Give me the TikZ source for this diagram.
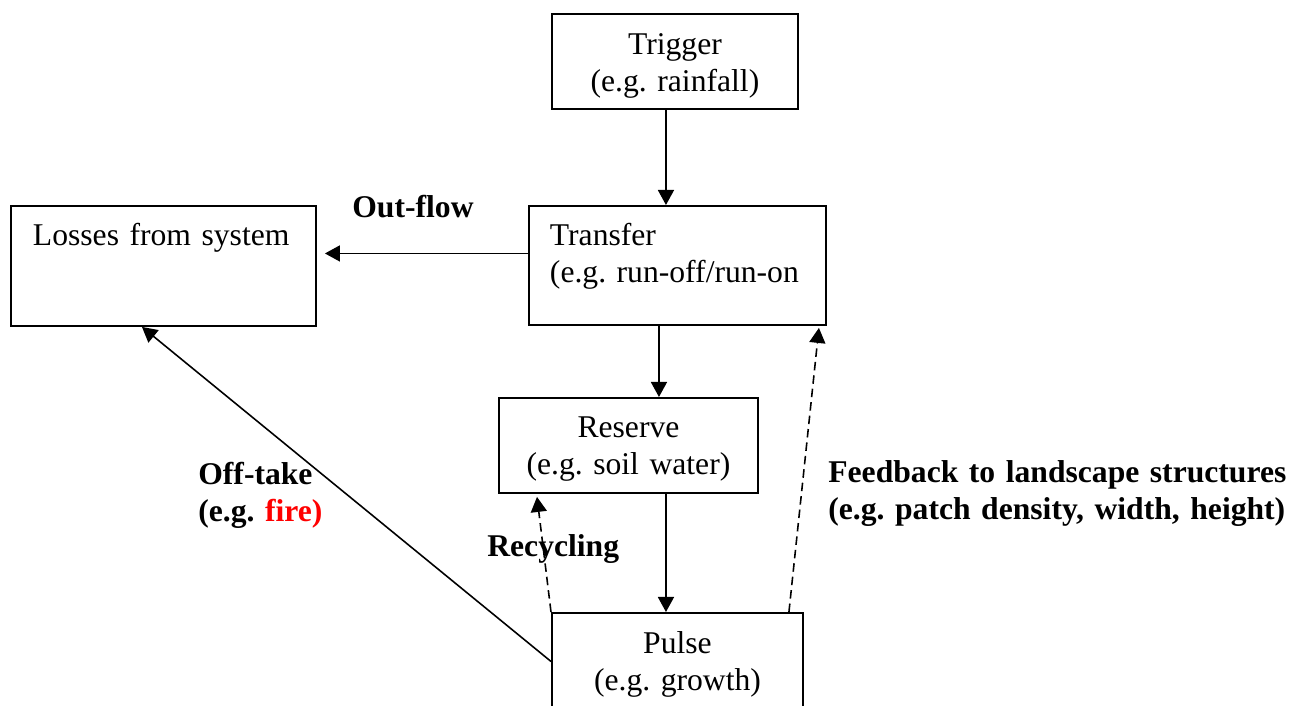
\documentclass[tikz,border=0pt]{standalone}
\usepackage{fontspec}
\setmainfont{Liberation Serif}
\usetikzlibrary{positioning}
\usetikzlibrary{calc}
\usetikzlibrary{arrows.meta}
\frenchspacing

\begin{document}
\begin{tikzpicture}
		\tikzset{box/.style = {shape=rectangle,draw,line width=1.1pt,anchor=north west,inner ysep=0pt,font=\fontsize{18pt}{21pt}\selectfont}}
		\tikzset{tag/.style = {anchor=base west,inner sep=0pt,align=left,font=\fontsize{18pt}{21pt}\selectfont\bfseries}}
		\tikzset{edge/.style = {-{Triangle[length=0.3cm,width=0.32cm]},line width=0.9pt}}
		\tikzset{back/.style = {edge,dash pattern=on 0.17cm off 0.1cm}}
		\useasboundingbox (0,0) rectangle (25.86,14.12);
		% boxes
		\node[box, text width=4.92cm, inner xsep=0pt, align=center, text height=0.82cm, text depth=1.08cm] (trig) at (11.02,13.86) {Trigger\\(e.g. rainfall)};
		\node[box, text width=5.10cm, inner xsep=0.42cm, align=left, text height=0.80cm, text depth=1.58cm] (trans) at (10.56,10.02) {Transfer\\(e.g. run-off/run-on};
		\node[box, text width=5.22cm, inner xsep=0.44cm, align=left, text height=0.80cm, text depth=1.60cm] (loss) at (0.20,10.02) {Losses from system};
		\node[box, text width=5.18cm, inner xsep=0pt, align=center, text height=0.80cm, text depth=1.10cm] (res) at (9.96,6.18) {Reserve\\(e.g. soil water)};
		\node[box, text width=5.02cm, inner xsep=0pt, align=center, text height=0.82cm, text depth=1.12cm] (pulse) at (11.02,1.88) {Pulse\\(e.g. growth)};
		
		% labels
		\node[tag] (out) at (7.04,9.76) {Out-flow};
		\node[tag, text width=2.8cm] (off) at (3.96,4.42) {Off-take\\(e.g. \textcolor{red}{fire)}};
		\node[tag] (rec) at (9.74,2.98) {Recycling};
		\node[tag, text width=9.3cm] (feed) at (16.56,4.46) {Feedback to landscape structures\\(e.g. patch density, width, height)};
		
		%edges
		\draw[edge] ([xshift=-0.18cm]trig.south) -- ([xshift=-0.18cm]trig.south |- trans.north);
		\draw[edge, shorten >=0.16cm] ([yshift=0.24cm]trans.west) -- ([yshift=0.24cm]trans.west -| loss.east);
		\draw[edge] ([xshift=-0.37cm]trans.south) -- ([xshift=-0.37cm]trans.south |- res.north);
		\draw[edge] ([xshift=-0.23cm]pulse.north |- res.south) -- ([xshift=-0.23cm]pulse.north);
		\draw[edge] (pulse.west) -- ([xshift=-0.43cm]loss.south);
		\draw[back] (pulse.north west) -- ([xshift=0.78cm,yshift=-0.06cm]res.south west);
		\draw[back] ([xshift=-0.30cm]pulse.north east) -- ([xshift=-0.16cm,yshift=-0.04cm]trans.south east);
		
\end{tikzpicture}
\end{document}
